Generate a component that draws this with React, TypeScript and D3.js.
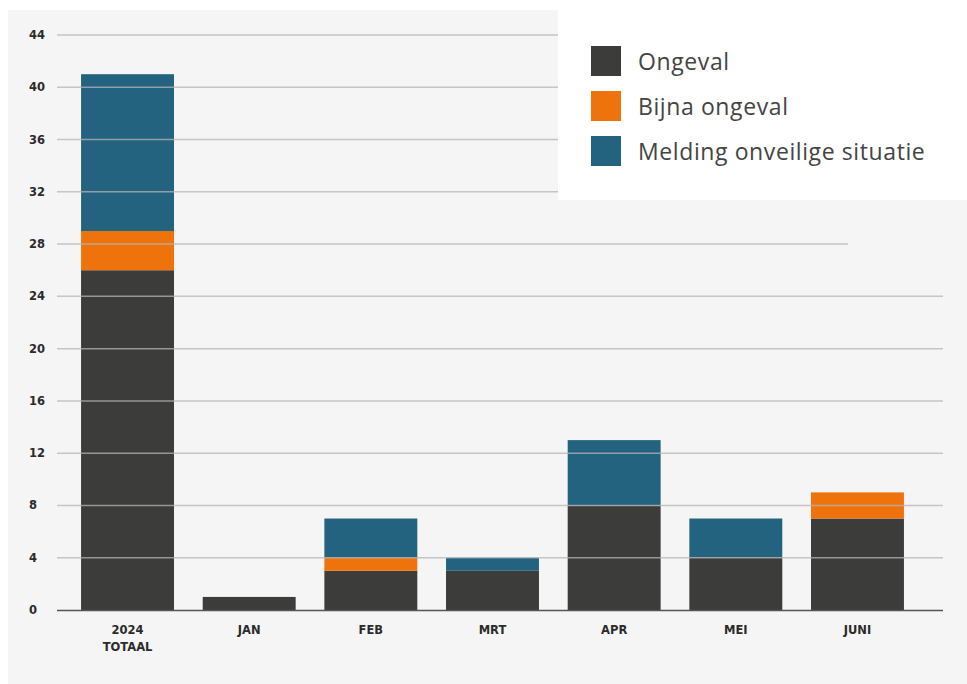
import * as d3 from "d3";
import { useEffect, useRef } from "react";

const categories = ["2024\nTOTAAL", "JAN", "FEB", "MRT", "APR", "MEI", "JUNI"];
const ongeval = [26, 1, 3, 3, 8, 4, 7];
const bijnaOngeval = [3, 0, 1, 0, 0, 0, 2];
const melding = [12, 0, 3, 1, 5, 3, 0];
const seriesNames = ["Ongeval", "Bijna ongeval", "Melding onveilige situatie"];
const seriesColors = ["#3c3c3b", "#ef730c", "#23637f"];
const yTicks = [0, 4, 8, 12, 16, 20, 24, 28, 32, 36, 40, 44];

const App = () => {
  const ref = useRef<SVGSVGElement>(null);

  useEffect(() => {
    const svg = d3.select(ref.current);
    svg.selectAll("*").remove();
    const width = 967;
    const height = 684;
    svg.attr("width", width).attr("height", height);

    svg
      .append("rect")
      .attr("x", 8)
      .attr("y", 10)
      .attr("width", width - 8)
      .attr("height", height - 10)
      .attr("fill", "#f5f5f5");

    const yScale = d3.scaleLinear().domain([0, 44]).range([610, 35]);
    const xScale = d3
      .scaleBand()
      .domain(categories)
      .range([66.7, 918.3])
      .paddingInner(0.236)
      .paddingOuter(0.118);

    const rows = categories.map((c, i) => ({
      cat: c,
      s0: ongeval[i],
      s1: bijnaOngeval[i],
      s2: melding[i],
    }));
    const stacked = d3.stack<any>().keys(["s0", "s1", "s2"])(rows);

    // bars
    stacked.forEach((layer, k) => {
      svg
        .append("g")
        .selectAll("rect")
        .data(layer.filter((d) => d[1] > d[0]))
        .enter()
        .append("rect")
        .attr("x", (d) => xScale(d.data.cat)!)
        .attr("y", (d) => yScale(d[1]))
        .attr("width", xScale.bandwidth())
        .attr("height", (d) => yScale(d[0]) - yScale(d[1]))
        .attr("fill", seriesColors[k]);
    });

    // gridlines drawn over the bars
    svg
      .append("g")
      .selectAll("line")
      .data(yTicks.filter((t) => t > 0))
      .enter()
      .append("line")
      .attr("x1", 57)
      .attr("x2", (d) => (d === 28 ? 848 : 943))
      .attr("y1", (d) => yScale(d))
      .attr("y2", (d) => yScale(d))
      .attr("stroke", "#b4b4b4")
      .attr("stroke-opacity", 0.75)
      .attr("stroke-width", 1.5);

    // x axis line
    svg
      .append("line")
      .attr("x1", 57)
      .attr("x2", 943)
      .attr("y1", yScale(0) + 0.5)
      .attr("y2", yScale(0) + 0.5)
      .attr("stroke", "#555")
      .attr("stroke-width", 1.5);

    // y tick labels
    svg
      .append("g")
      .selectAll("text")
      .data(yTicks)
      .enter()
      .append("text")
      .attr("x", 29)
      .attr("y", (d) => yScale(d) + 4)
      .attr("font-family", "'DejaVu Sans', sans-serif")
      .attr("font-size", 11.5)
      .attr("font-weight", "bold")
      .attr("fill", "#2b2b2b")
      .text((d) => d);

    // x labels
    const xl = svg
      .append("g")
      .selectAll("text")
      .data(categories)
      .enter()
      .append("text")
      .attr("x", (d) => xScale(d)! + xScale.bandwidth() / 2)
      .attr("y", 634)
      .attr("text-anchor", "middle")
      .attr("font-family", "'DejaVu Sans', sans-serif")
      .attr("font-size", 11.5)
      .attr("font-weight", "bold")
      .attr("fill", "#2b2b2b");
    xl.each(function (d) {
      const lines = d.split("\n");
      d3.select(this)
        .selectAll("tspan")
        .data(lines)
        .enter()
        .append("tspan")
        .attr("x", xScale(d)! + xScale.bandwidth() / 2)
        .attr("dy", (_, i) => (i === 0 ? 0 : 17))
        .text((t) => t);
    });

    // legend
    svg
      .append("rect")
      .attr("x", 558)
      .attr("y", 0)
      .attr("width", width - 558)
      .attr("height", 200)
      .attr("fill", "#ffffff");
    const legend = svg
      .append("g")
      .selectAll("g")
      .data(seriesNames)
      .enter()
      .append("g")
      .attr("transform", (_, i) => `translate(591,${46 + i * 45})`);
    legend
      .append("rect")
      .attr("width", 30)
      .attr("height", 30)
      .attr("fill", (_, i) => seriesColors[i]);
    legend
      .append("text")
      .attr("x", 47)
      .attr("y", 24)
      .attr("font-family", "'Open Sans', sans-serif")
      .attr("font-size", 23)
      .attr("letter-spacing", 0.6)
      .attr("fill", "#444")
      .text((d) => d);
  }, []);

  return (
    <svg ref={ref} style={{ position: "absolute", left: 0, top: 0 }}></svg>
  );
};

export default App;
